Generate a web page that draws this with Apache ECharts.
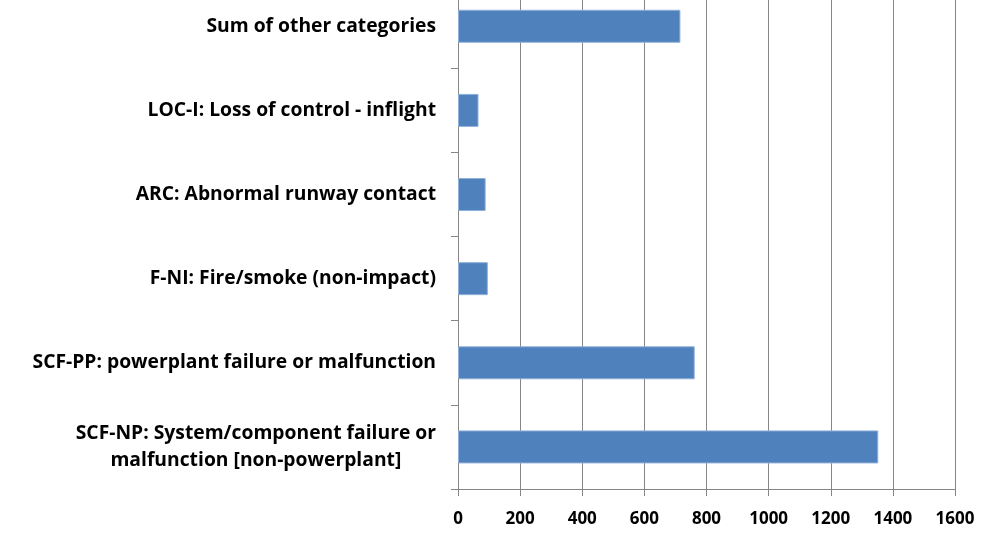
<!DOCTYPE html>
<html>
<head>
<meta charset="utf-8">
<script src="https://cdn.jsdelivr.net/npm/echarts@6/dist/echarts.min.js"></script>
<style>html,body{margin:0;padding:0;background:#fff}#c{width:991px;height:549px}</style>
</head>
<body>
<div id="c"></div>
<script>
var categories = [
  'SCF-NP: System/component failure or\nmalfunction [non-powerplant]',
  'SCF-PP: powerplant failure or malfunction',
  'F-NI: Fire/smoke (non-impact)',
  'ARC: Abnormal runway contact',
  'LOC-I: Loss of control - inflight',
  'Sum of other categories'
];
var values = [1353, 762, 96, 89, 66, 716];
var xTicks = [0, 200, 400, 600, 800, 1000, 1200, 1400, 1600];

var FONT = '"Open Sans", sans-serif';
var chart = echarts.init(document.getElementById('c'), null, {renderer: 'canvas'});
chart.setOption({
  animation: false,
  backgroundColor: '#fff',
  grid: {left: 458, right: 36, top: -15.8, bottom: 60, containLabel: false, outerBoundsMode: 'none'},
  xAxis: {
    type: 'value', min: xTicks[0], max: xTicks[xTicks.length - 1], interval: 200,
    axisLine: {show: true, lineStyle: {color: '#868686', width: 1}},
    axisTick: {show: true, length: 7, lineStyle: {color: '#868686'}},
    splitLine: {show: true, lineStyle: {color: '#868686', width: 1}},
    axisLabel: {margin: 22, color: '#000', fontFamily: FONT, fontWeight: 'bold', fontSize: 17,
      formatter: function (v) { return String(v); }}
  },
  yAxis: {
    type: 'category', data: categories,
    axisLine: {show: true, lineStyle: {color: '#868686', width: 1}},
    axisTick: {show: true, length: 7, lineStyle: {color: '#868686'}},
    axisLabel: {
      margin: 22, color: '#000', fontFamily: FONT, fontWeight: 'bold', fontSize: 19.3,
      formatter: function (v) { return v.split('\n').map(function (s) { return '{c|' + s + '}'; }).join('\n'); },
      rich: {c: {align: 'center', color: '#000', fontFamily: FONT, fontWeight: 'bold', fontSize: 19.3, lineHeight: 27}}
    }
  },
  series: [{
    type: 'bar', data: values, barWidth: 33,
    itemStyle: {color: '#4F81BD', borderColor: '#8fb0d8', borderWidth: 1}
  }]
});
</script>
</body>
</html>
